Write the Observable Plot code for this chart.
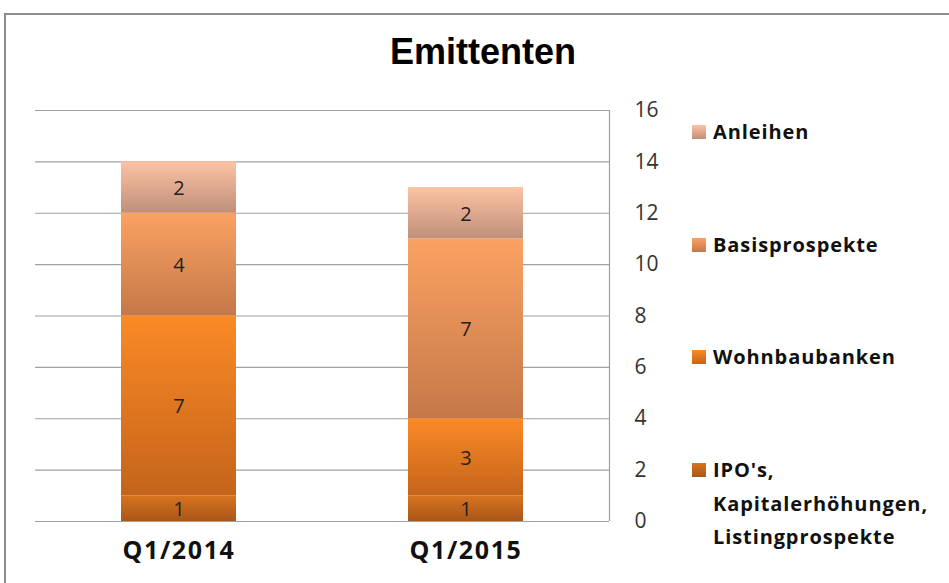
<!DOCTYPE html>
<html><head><meta charset="utf-8">
<script src="https://cdn.jsdelivr.net/npm/d3@7"></script>
<script src="https://cdn.jsdelivr.net/npm/@observablehq/plot@0.6"></script>
<style>
body{margin:0;background:#fff;}
#wrap{position:relative;width:949px;height:583px;overflow:hidden;font-family:"Open Sans",Lato,sans-serif;}
#frame{position:absolute;left:4px;top:13px;width:1000px;height:700px;border:2px solid #8c8c8c;box-sizing:border-box;}
#title{position:absolute;left:0;width:966px;top:31px;text-align:center;font:bold 36px "Liberation Sans",Arial,sans-serif;color:#000;}
#chart{position:absolute;left:0;top:0;}
.leg{position:absolute;left:692px;font-weight:bold;font-size:20px;color:#111;line-height:33.5px;}
.leg .sw{position:absolute;left:0;top:10px;width:14px;height:14px;}
.leg .tx{position:absolute;left:21px;top:0;white-space:nowrap;letter-spacing:0.9px;}
</style></head>
<body><div id="wrap"><div id="frame"></div><div id="chart"></div><div id="title">Emittenten</div></div>
<script>
const categories = ["Q1/2014", "Q1/2015"];
const series = ["IPO's, Kapitalerhöhungen, Listingprospekte", "Wohnbaubanken", "Basisprospekte", "Anleihen"];
const values2014 = [1, 7, 4, 2];
const values2015 = [1, 3, 7, 2];
const yTicks = [0, 2, 4, 6, 8, 10, 12, 14, 16];

const gradients = [
  ["g0", "#d8741e", "#a8561a"],
  ["g1", "#fb8a26", "#c4641a"],
  ["g2", "#fba262", "#c47848"],
  ["g3", "#fdc3a3", "#bf8f7a"]
];

const data = [];
series.forEach((s, i) => {
  data.push({cat: categories[0], series: s, value: values2014[i], idx: i});
  data.push({cat: categories[1], series: s, value: values2015[i], idx: i});
});
// midpoints for labels
const mids = [];
categories.forEach(c => {
  let acc = 0;
  data.filter(d => d.cat === c).forEach(d => { mids.push({cat: c, y: acc + d.value / 2, value: d.value}); acc += d.value; });
});

const chart = Plot.plot({
  width: 949, height: 583,
  marginLeft: 35, marginRight: 340, marginTop: 110, marginBottom: 62,
  style: {fontFamily: "'Open Sans', Lato, sans-serif", background: "transparent"},
  x: {domain: categories, paddingInner: 0.6, paddingOuter: 0.3, label: null},
  y: {domain: [0, 16], ticks: yTicks, label: null},
  marks: [
    Plot.ruleY(yTicks, {stroke: "#a0a0a0", strokeWidth: 1.2}),
    Plot.barY(data, {x: "cat", y: "value", fill: d => `url(#g${d.idx})`, order: null}),
    Plot.text(mids, {x: "cat", y: "y", text: d => String(d.value), fontSize: 20, fill: "#222", dy: 1}),
    Plot.axisY({anchor: "right", ticks: yTicks, tickSize: 0, tickPadding: 25, textAnchor: "start", fontSize: 21, fill: "#333", label: null}),
    Plot.axisX({anchor: "bottom", tickSize: 0, tickPadding: 20, fontSize: 25, fontWeight: "bold", fill: "#111", label: null})
  ]
});

const svg = d3.select(chart);
const defs = svg.insert("defs", ":first-child");
gradients.forEach(([id, top, bot]) => {
  const g = defs.append("linearGradient").attr("id", id).attr("x1", 0).attr("y1", 0).attr("x2", 0).attr("y2", 1);
  g.append("stop").attr("offset", "0%").attr("stop-color", top);
  g.append("stop").attr("offset", "100%").attr("stop-color", bot);
});
svg.selectAll("[aria-label='x-axis tick label'] text").attr("letter-spacing", "1.6px");
// right axis line
svg.append("line").attr("x1", 609.5).attr("x2", 609.5).attr("y1", 110).attr("y2", 521).attr("stroke", "#a0a0a0").attr("stroke-width", 1.2);
document.getElementById("chart").appendChild(chart);

// legend
const wrap = document.getElementById("wrap");
const legendTop = {"Anleihen": 115, "Basisprospekte": 228, "Wohnbaubanken": 340, "IPO's, Kapitalerhöhungen, Listingprospekte": 453};
const legendText = {"IPO's, Kapitalerhöhungen, Listingprospekte": "IPO's,<br>Kapitalerhöhungen,<br>Listingprospekte"};
[...series].reverse().forEach(s => {
  const i = series.indexOf(s);
  const el = document.createElement("div");
  el.className = "leg";
  el.style.top = legendTop[s] + "px";
  el.innerHTML = `<div class="sw" style="background:linear-gradient(${gradients[i][1]},${gradients[i][2]})"></div><div class="tx">${legendText[s] || s}</div>`;
  wrap.appendChild(el);
});
</script></body></html>
